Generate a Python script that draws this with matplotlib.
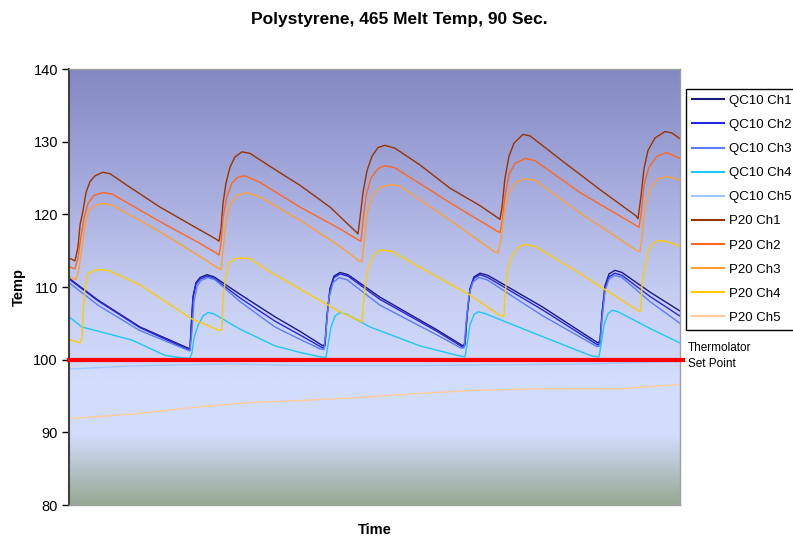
import numpy as np
import matplotlib.pyplot as plt
from matplotlib.colors import LinearSegmentedColormap

plt.rcParams['font.family'] = ['Liberation Sans', 'DejaVu Sans']

# sample index (logger samples), temperature in deg
qc1_t = [0, 29, 71, 119, 121, 122, 124, 127, 131, 138, 145, 171, 206, 231, 254, 256, 258, 261, 265, 271, 279,
         311, 368, 394, 396, 398, 401, 405, 411, 419, 473, 529, 531, 533, 536, 540, 546, 553, 581, 611]
qc1_v = [111.2, 108.2, 104.5, 101.6, 101.5, 104.0, 108.7, 110.6, 111.3, 111.7, 111.4, 109.0, 105.9, 103.9, 101.9,
         102.2, 106.0, 109.8, 111.5, 112.0, 111.7, 108.6, 104.1, 101.9, 102.3, 106.0, 109.8, 111.4, 111.9, 111.6,
         107.3, 102.3, 102.6, 106.5, 110.2, 111.8, 112.3, 112.0, 109.3, 106.7]

qc2_t = qc1_t
qc2_v = [111.1, 108.1, 104.4, 101.4, 101.3, 104.0, 108.5, 110.4, 111.1, 111.5, 111.2, 108.5, 105.3, 103.4, 101.6,
         101.9, 106.0, 109.6, 111.3, 111.8, 111.5, 108.3, 103.9, 101.7, 102.0, 106.0, 109.6, 111.2, 111.7, 111.3,
         106.9, 102.0, 102.3, 106.0, 109.8, 111.4, 111.9, 111.6, 108.7, 106.0]

qc3_t = [0, 29, 71, 119, 121, 123, 125, 128, 132, 139, 146, 171, 206, 231, 251, 255, 257, 260, 264, 270, 278,
         311, 368, 392, 395, 397, 400, 404, 410, 418, 473, 528, 531, 533, 536, 540, 546, 553, 581, 611]
qc3_v = [110.6, 107.5, 104.0, 101.3, 101.2, 104.0, 108.0, 110.1, 110.9, 111.3, 111.0, 108.0, 104.5, 102.8, 101.5,
         101.4, 104.0, 108.5, 110.6, 111.3, 111.0, 107.5, 103.4, 101.6, 101.6, 105.0, 109.0, 110.7, 111.3, 111.0,
         106.1, 101.8, 101.9, 105.5, 109.5, 111.1, 111.6, 111.3, 108.0, 105.0]

qc4_t = [0, 13, 63, 96, 111, 121, 123, 125, 129, 134, 139, 145, 171, 206, 231, 251, 257, 259, 262, 266, 271, 277,
         301, 351, 391, 396, 398, 401, 405, 409, 415, 473, 523, 530, 532, 535, 539, 543, 549, 581, 611]
qc4_v = [105.9, 104.5, 102.7, 100.6, 100.3, 100.2, 101.0, 103.0, 104.7, 106.0, 106.5, 106.3, 104.2, 101.9, 101.0,
         100.4, 100.3, 102.0, 104.5, 106.0, 106.5, 106.3, 104.5, 101.9, 100.5, 100.4, 102.0, 104.8, 106.2, 106.6,
         106.4, 103.2, 100.5, 100.4, 102.0, 104.8, 106.3, 106.8, 106.6, 104.3, 102.3]

qc5_t = [0, 56, 110, 163, 234, 300, 354, 420, 473, 520, 564, 611]
qc5_v = [98.7, 99.1, 99.3, 99.4, 99.2, 99.2, 99.2, 99.3, 99.35, 99.4, 99.6, 99.75]

p1_t = [0, 6, 9, 11, 14, 17, 21, 26, 34, 41, 58, 91, 124, 147, 150, 152, 154, 157, 161, 166, 173, 181, 201, 231,
        261, 287, 289, 291, 294, 298, 303, 309, 316, 326, 351, 381, 411, 428, 431, 433, 436, 440, 445, 454, 461,
        491, 531, 567, 569, 572, 575, 579, 586, 596, 603, 611]
p1_v = [114.0, 113.6, 115.5, 118.5, 120.5, 123.0, 124.5, 125.3, 125.8, 125.6, 124.0, 121.0, 118.4, 116.6, 116.3,
        118.0, 121.5, 124.3, 126.5, 127.9, 128.6, 128.4, 126.6, 124.0, 121.0, 117.6, 117.3, 119.5, 123.0, 126.0,
        128.0, 129.2, 129.5, 129.1, 126.8, 123.6, 121.2, 119.6, 119.3, 121.0, 125.0, 128.0, 129.8, 131.0, 130.8,
        127.6, 123.4, 119.8, 119.4, 122.5, 126.3, 128.8, 130.5, 131.4, 131.2, 130.4]

p2_t = [0, 6, 9, 12, 15, 19, 25, 34, 43, 91, 131, 147, 150, 152, 154, 158, 163, 169, 176, 191, 231, 271, 289, 292,
        294, 297, 302, 309, 316, 326, 381, 428, 431, 433, 436, 440, 446, 456, 466, 511, 568, 570, 572, 575, 580,
        588, 598, 611]
p2_v = [112.8, 112.5, 114.0, 117.0, 119.5, 121.5, 122.6, 123.0, 122.8, 119.0, 116.0, 114.7, 114.4, 116.0, 119.5,
        122.5, 124.3, 125.1, 125.3, 124.4, 121.0, 118.0, 116.5, 116.3, 119.0, 122.5, 125.0, 126.3, 126.7, 126.4,
        121.6, 117.7, 117.5, 119.0, 122.5, 125.5, 127.0, 127.7, 127.4, 123.0, 118.4, 118.2, 120.0, 124.0, 126.5,
        128.0, 128.5, 127.7]

p3_t = [0, 7, 10, 13, 16, 20, 26, 34, 43, 91, 131, 149, 152, 154, 157, 161, 168, 178, 191, 231, 271, 290, 293, 295,
        298, 303, 311, 321, 331, 381, 426, 429, 432, 435, 440, 447, 456, 466, 511, 568, 571, 573, 576, 581, 589,
        599, 611]
p3_v = [111.4, 111.0, 112.5, 115.5, 118.5, 120.5, 121.2, 121.5, 121.3, 117.6, 114.2, 112.6, 112.4, 115.0, 119.0,
        121.3, 122.6, 123.0, 122.4, 119.2, 115.6, 113.6, 113.5, 116.0, 120.0, 122.5, 123.7, 124.1, 123.9, 119.2,
        114.8, 114.7, 116.5, 120.0, 123.0, 124.4, 124.9, 124.7, 120.2, 115.0, 114.9, 117.0, 121.0, 123.5, 124.9,
        125.2, 124.7]

p4_t = [0, 11, 13, 14, 16, 19, 26, 33, 41, 71, 123, 151, 153, 154, 157, 160, 166, 173, 181, 201, 268, 293, 294,
        296, 299, 304, 308, 314, 323, 368, 401, 431, 435, 436, 439, 443, 449, 456, 466, 506, 571, 572, 573, 579,
        583, 589, 597, 611]
p4_v = [102.8, 102.3, 103.0, 106.0, 110.0, 111.9, 112.3, 112.4, 112.2, 110.3, 105.6, 104.0, 104.2, 108.7, 111.5,
        113.3, 113.9, 114.0, 113.9, 112.1, 106.8, 105.2, 107.0, 110.0, 112.6, 114.2, 114.9, 115.1, 114.9, 111.4,
        108.9, 106.1, 106.0, 109.0, 112.5, 114.3, 115.4, 115.9, 115.6, 112.3, 106.6, 107.0, 110.5, 114.9, 115.9,
        116.4, 116.3, 115.6]

p5_t = [0, 41, 71, 115, 181, 234, 291, 354, 411, 473, 531, 552, 581, 611]
p5_v = [91.9, 92.3, 92.6, 93.3, 94.1, 94.4, 94.8, 95.4, 95.8, 96.0, 96.0, 96.0, 96.3, 96.6]

set_point = 100

series = [
    ("QC10 Ch1", qc1_t, qc1_v, "#1a1a80"),
    ("QC10 Ch2", qc2_t, qc2_v, "#2626e6"),
    ("QC10 Ch3", qc3_t, qc3_v, "#5c7cfa"),
    ("QC10 Ch4", qc4_t, qc4_v, "#1ec8f5"),
    ("QC10 Ch5", qc5_t, qc5_v, "#a0c8ff"),
    ("P20 Ch1", p1_t, p1_v, "#993300"),
    ("P20 Ch2", p2_t, p2_v, "#ff6620"),
    ("P20 Ch3", p3_t, p3_v, "#ffa033"),
    ("P20 Ch4", p4_t, p4_v, "#ffcc00"),
    ("P20 Ch5", p5_t, p5_v, "#ffcc99"),
]

fig = plt.figure(figsize=(7.93, 5.38), dpi=100)
ax = fig.add_axes([0.087, 0.0613, 0.7705, 0.8104])

# background gradient (top -> bottom)
grad = LinearSegmentedColormap.from_list("bg", [
    (0.0, "#8488c2"), (0.30, "#a9b0e0"), (0.53, "#c8cff3"), (0.71, "#d2dcfc"),
    (0.84, "#d2dcfc"), (1.0, "#96aa94")])
ax.imshow(np.linspace(0, 1, 256).reshape(-1, 1), cmap=grad, aspect="auto",
          extent=[0, 611, 80, 140], zorder=0)

for name, t, v, c in series:
    ax.plot(t, v, color=c, lw=1.0, label=name, zorder=2)

ax.axhline(set_point, xmax=1.005, color="#ff0000", lw=3, zorder=3, clip_on=False)

ax.set_xlim(0, 611)
ax.set_ylim(80, 140)
ax.set_yticks(range(80, 141, 10))
ax.set_xticks([])
ax.tick_params(axis="y", direction="out", length=5, width=1, labelsize=10.5, pad=3)
ax.spines["left"].set_color("#404040")
ax.spines["left"].set_linewidth(1.5)
for s in ["top", "right", "bottom"]:
    ax.spines[s].set_color("#a0a0a0")
    ax.spines[s].set_linewidth(1)

ax.set_xlabel("Time", fontsize=10.5, fontweight="bold", labelpad=13)
ax.set_ylabel("Temp", fontsize=10.5, fontweight="bold", labelpad=5)
fig.text(0.504, 0.963, "Polystyrene, 465 Melt Temp, 90 Sec.", ha="center", va="center",
         fontsize=12.5, fontweight="bold")
fig.text(0.867, 0.339, "Thermolator\nSet Point", ha="left", va="center", fontsize=8.5, linespacing=1.45)

leg = ax.legend(loc="upper left", bbox_to_anchor=(0.865, 0.835), bbox_transform=fig.transFigure,
                fontsize=9.5, frameon=True, fancybox=False, edgecolor="black", framealpha=1,
                handlelength=2.4, labelspacing=0.9, borderaxespad=0, borderpad=0.45, handletextpad=0.4)
leg.get_frame().set_linewidth(1)
for h in leg.get_lines():
    h.set_linewidth(1.5)

plt.savefig("out.png", dpi=100)
